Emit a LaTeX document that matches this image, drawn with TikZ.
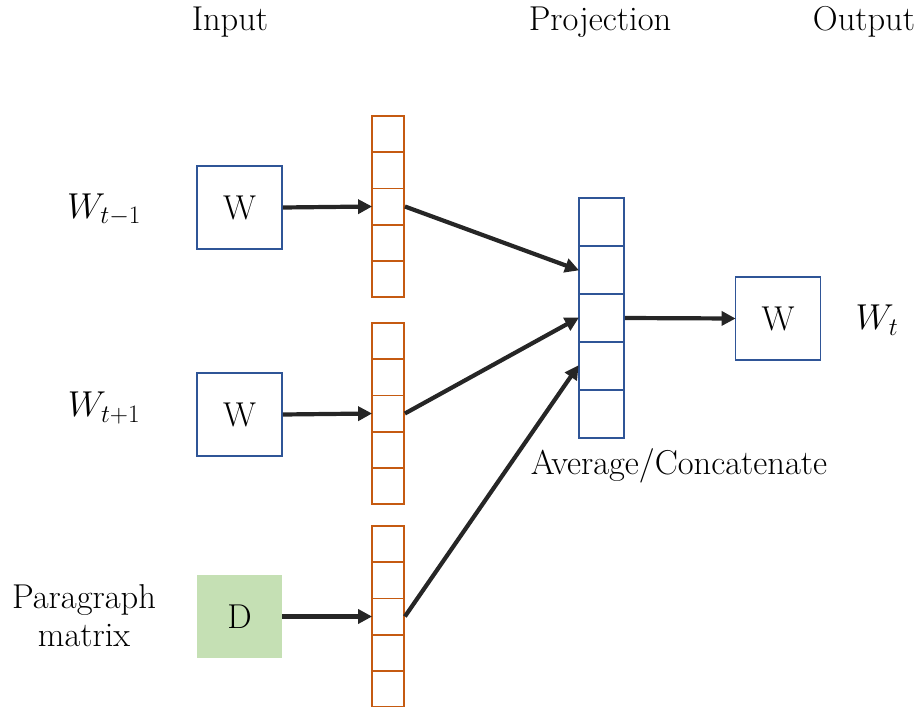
\documentclass[tikz,border=0pt]{standalone}
\usepackage{fix-cm}
\usepackage{fontspec}
\usetikzlibrary{arrows.meta}
\definecolor{boxblue}{HTML}{2F5597}
\definecolor{cellorange}{HTML}{C55A11}
\definecolor{dgreen}{HTML}{C5E0B4}
\definecolor{arrowgray}{HTML}{262626}
\tikzset{
  txt/.style={font=\fontsize{34.5}{40}\selectfont, inner sep=0pt},
  mlabel/.style={font=\fontsize{36}{40}\selectfont, inner sep=0pt},
  wordbox/.style={draw=boxblue, line width=1.8pt, minimum width=85pt, minimum height=83pt,
                  inner sep=0pt, font=\fontsize{34.5}{40}\selectfont},
  docbox/.style={fill=dgreen, minimum width=85pt, minimum height=83pt,
                 inner sep=0pt, font=\fontsize{34.5}{40}\selectfont},
  ocell/.style={draw=cellorange, line width=1.8pt, minimum width=32pt, minimum height=36.2pt, inner sep=0pt},
  bcell/.style={draw=boxblue, line width=1.8pt, minimum width=45pt, minimum height=48pt, inner sep=0pt},
  arr/.style={draw=arrowgray, line width=4.2pt, -{Triangle[length=14pt,width=14pt]}, shorten >=-1pt}
}
\begin{document}
\begin{tikzpicture}[x=1pt,y=-1pt]
\useasboundingbox (0,0) rectangle (917,706);
\clip (0,0) rectangle (917,706);

% column headers
\node[txt] (hin)  at (230,22) {Input};
\node[txt] (hpro) at (600,22) {Projection};
\node[txt] (hout) at (864,22) {Output};

% context word labels
\node[mlabel] (lprev) at (104,210) {$W_{t-1}$};
\node[mlabel] (lnext) at (104,408) {$W_{t+1}$};
\node[txt, align=center] (lpar) at (84,616) {Paragraph\\[-2pt]matrix};
\node[mlabel] (lout) at (877,320) {$W_t$};

% input boxes
\node[wordbox] (w1) at (239.5,207.5) {W};
\node[wordbox] (w2) at (239.5,414.5) {W};
\node[docbox]  (d)  at (239.5,616.5) {D};

% embedding vectors (orange)
\foreach \i in {1,...,5} {
  \node[ocell] (a\i) at (388,{116+18.1+36.2*(\i-1)}) {};
  \node[ocell] (b\i) at (388,{323+18.1+36.2*(\i-1)}) {};
  \node[ocell] (c\i) at (388,{526+18.1+36.2*(\i-1)}) {};
}

% projection vector (blue)
\foreach \i in {1,...,5} {
  \node[bcell] (p\i) at (601.5,{198+24+48*(\i-1)}) {};
}
\node[txt] (avg) at (679,466) {Average/Concatenate};

% output box
\node[wordbox] (out) at (778,318.5) {W};

% connectors
\draw[arr] (w1.east) -- (a3.west);
\draw[arr] (w2.east) -- (b3.west);
\draw[arr] (d.east) -- (c3.west);
\draw[arr] (a3.east) -- (p2.west);
\draw[arr] (b3.east) -- (p3.west);
\draw[arr] (c3.east) -- (p4.west);
\draw[arr] (p3.east) -- (out.west);
\end{tikzpicture}
\end{document}
